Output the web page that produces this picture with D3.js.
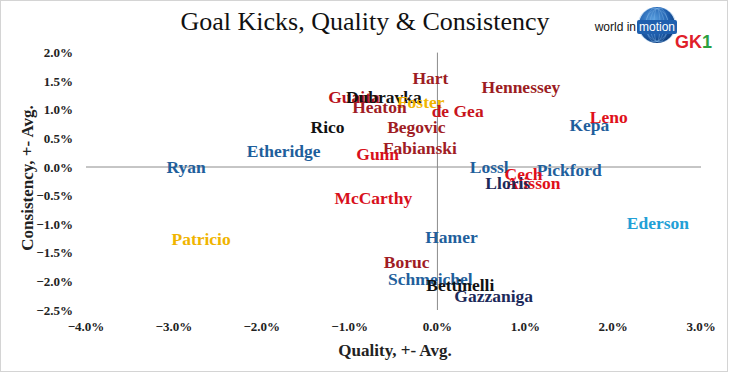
<!DOCTYPE html>
<html>
<head>
<meta charset="utf-8">
<script src="https://cdn.jsdelivr.net/npm/d3@7"></script>
<style>
  body { margin: 0; background: #fff; }
  svg { display: block; }
</style>
</head>
<body>
<div id="chart"></div>
<script>
// keepers, quality (+- avg, %) and consistency (+- avg, %)
const keepers = ["Hart", "Hennessey", "Guaita", "Dubravka", "Foster", "Heaton", "de Gea", "Rico", "Begovic",
  "Kepa", "Leno", "Fabianski", "Gunn", "Etheridge", "Ryan", "Lossl", "Pickford", "Cech", "Alisson", "Lloris",
  "Ederson", "McCarthy", "Hamer", "Patricio", "Boruc", "Schmeichel", "Bettinelli", "Gazzaniga"]
const quality = [-0.08, 0.95, -0.95, -0.61, -0.19, -0.66, 0.23, -1.25, -0.24,
  1.73, 1.95, -0.20, -0.68, -1.75, -2.86, 0.59, 1.50, 0.98, 1.09, 0.80,
  2.51, -0.73, 0.16, -2.69, -0.35, -0.08, 0.26, 0.64]
const consistency = [1.56, 1.40, 1.22, 1.22, 1.14, 1.05, 0.98, 0.70, 0.70,
  0.73, 0.87, 0.33, 0.23, 0.28, 0.00, 0.00, -0.05, -0.12, -0.28, -0.28,
  -0.98, -0.54, -1.22, -1.26, -1.66, -1.96, -2.06, -2.26]
const labelColors = ["#9c1c22", "#9c1c22", "#b8121c", "#111111", "#f0b400", "#a01c24", "#c8141c", "#111111", "#a01c24",
  "#1f5f9c", "#e0101a", "#a01c24", "#d8101c", "#1f5f9c", "#1f5f9c", "#1f5f9c", "#1f5f9c", "#e0101a", "#e0101a", "#1c2a5a",
  "#22a0d6", "#d8101c", "#1f5f9c", "#f0b400", "#a01c24", "#1f5f9c", "#111111", "#1c2a5a"]

const xTicks = [-4, -3, -2, -1, 0, 1, 2, 3]
const yTicks = [2, 1.5, 1, 0.5, 0, -0.5, -1, -1.5, -2, -2.5]

const W = 730, H = 375
const serif = "'Liberation Serif', 'Times New Roman', serif"

const svg = d3.select("#chart").append("svg")
  .attr("width", W).attr("height", H)

// outer frame
svg.append("rect")
  .attr("x", 0.5).attr("y", 0.5)
  .attr("width", W - 3).attr("height", H - 4)
  .attr("fill", "#fff").attr("stroke", "#d4d4d4")

const x = d3.scaleLinear().domain([-4, 3]).range([86, 701])
const y = d3.scaleLinear().domain([-2.5, 2]).range([310, 52.6])

// title
svg.append("text")
  .attr("x", 365).attr("y", 30)
  .attr("text-anchor", "middle")
  .style("font-family", serif).style("font-size", "26px")
  .attr("fill", "#111")
  .text("Goal Kicks, Quality & Consistency")

// axes through zero
svg.append("line")
  .attr("x1", x(-4)).attr("x2", x(3))
  .attr("y1", y(0)).attr("y2", y(0))
  .attr("stroke", "#8c8c8c")
svg.append("line")
  .attr("x1", x(0)).attr("x2", x(0))
  .attr("y1", y(2)).attr("y2", y(-2.5))
  .attr("stroke", "#8c8c8c")

const pct = d3.format(".1f")

// y tick labels
svg.append("g").selectAll("text")
  .data(yTicks).enter().append("text")
  .attr("x", 73).attr("y", d => y(d))
  .attr("dy", "0.35em")
  .attr("text-anchor", "end")
  .style("font-family", serif).style("font-size", "13px").style("font-weight", "bold")
  .attr("fill", "#222")
  .text(d => pct(d) + "%")

// x tick labels
svg.append("g").selectAll("text")
  .data(xTicks).enter().append("text")
  .attr("x", d => x(d)).attr("y", 326)
  .attr("dy", "0.35em")
  .attr("text-anchor", "middle")
  .style("font-family", serif).style("font-size", "13px").style("font-weight", "bold")
  .attr("fill", "#222")
  .text(d => pct(d) + "%")

// axis titles
svg.append("text")
  .attr("x", 395).attr("y", 350)
  .attr("dy", "0.35em")
  .attr("text-anchor", "middle")
  .style("font-family", serif).style("font-size", "17px").style("font-weight", "bold")
  .attr("fill", "#222")
  .text("Quality, +- Avg.")
svg.append("text")
  .attr("transform", "translate(27,178) rotate(-90)")
  .attr("dy", "0.35em")
  .attr("text-anchor", "middle")
  .style("font-family", serif).style("font-size", "17px").style("font-weight", "bold")
  .attr("fill", "#222")
  .text("Consistency, +- Avg.")

// data labels, centred on each point
const points = keepers.map((k, i) => ({name: k, q: quality[i], c: consistency[i], col: labelColors[i]}))
svg.append("g").selectAll("text")
  .data(points).enter().append("text")
  .attr("x", d => x(d.q)).attr("y", d => y(d.c))
  .attr("dy", "0.35em")
  .attr("text-anchor", "middle")
  .style("font-family", serif).style("font-size", "17.5px").style("font-weight", "bold")
  .attr("fill", d => d.col)
  .text(d => d.name)

// logo
const logo = svg.append("g")
const defs = svg.append("defs")
const grad = defs.append("radialGradient").attr("id", "globe")
  .attr("cx", "40%").attr("cy", "35%").attr("r", "70%")
grad.append("stop").attr("offset", "0%").attr("stop-color", "#5aa0e0")
grad.append("stop").attr("offset", "60%").attr("stop-color", "#1f5fae")
grad.append("stop").attr("offset", "100%").attr("stop-color", "#0d3a78")
logo.append("circle").attr("cx", 657).attr("cy", 25).attr("r", 18).attr("fill", "url(#globe)")
;[-12, -6, 0, 6, 12].forEach(o => {
  logo.append("ellipse").attr("cx", 657 + o * 0.3).attr("cy", 25)
    .attr("rx", Math.abs(o) + 3).attr("ry", 17)
    .attr("fill", "none").attr("stroke", "#7fb4e6").attr("stroke-width", 0.6).attr("opacity", 0.7)
})
logo.append("text").attr("x", 636).attr("y", 31).attr("text-anchor", "end")
  .style("font-family", "'Liberation Sans', Arial, sans-serif").style("font-size", "12px")
  .attr("fill", "#111").text("world in")
logo.append("rect").attr("x", 637).attr("y", 20).attr("width", 40).attr("height", 14)
  .attr("fill", "#1f5fae").attr("rx", 2)
logo.append("text").attr("x", 657).attr("y", 31).attr("text-anchor", "middle")
  .style("font-family", "'Liberation Sans', Arial, sans-serif").style("font-size", "12px")
  .attr("fill", "#fff").text("motion")
const gk = logo.append("text").attr("x", 675).attr("y", 48)
  .style("font-family", "'Liberation Sans', Arial, sans-serif").style("font-size", "18px")
  .style("font-weight", "bold").attr("fill", "#e0202a")
gk.append("tspan").text("GK")
gk.append("tspan").attr("fill", "#2aa040").text("1")
</script>
</body>
</html>
